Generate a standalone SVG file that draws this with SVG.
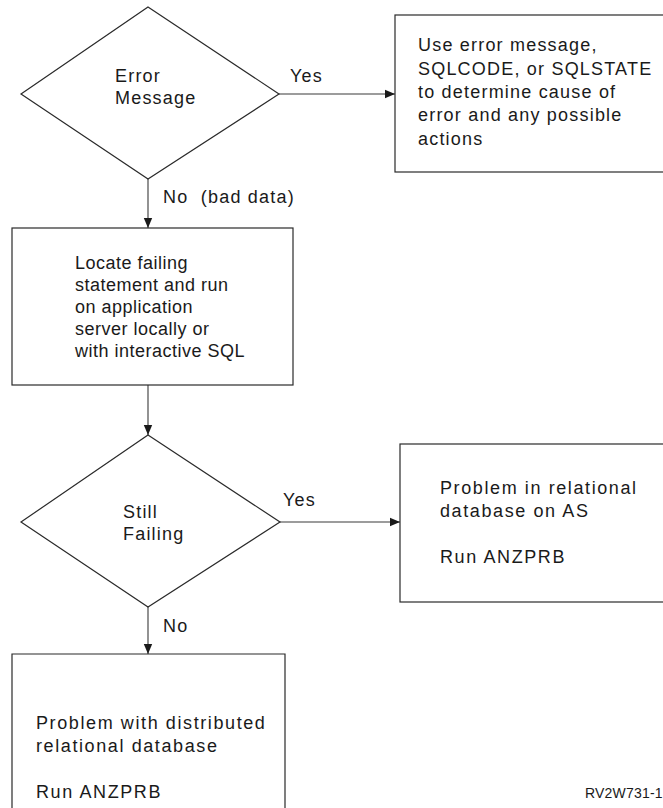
<svg xmlns="http://www.w3.org/2000/svg" width="663" height="808" viewBox="0 0 663 808">
  <style>
    .shape { fill: #ffffff; stroke: #2a2a2a; stroke-width: 1.2; }
    .link { fill: none; stroke: #3a3a3a; stroke-width: 1.1; }
    text { font-family: "Liberation Sans", Arial, sans-serif; font-size: 18px; fill: #1a1a1a; letter-spacing: 1.2px; }
    .tight { letter-spacing: 0.5px; }
    .wide { letter-spacing: 1.6px; }
    .ref { font-size: 14px; letter-spacing: 0.2px; }
  </style>
  <defs>
    <marker id="arrow" viewBox="0 0 10 10" refX="10" refY="5" markerWidth="10" markerHeight="10" markerUnits="userSpaceOnUse" orient="auto">
      <path d="M0,0.8 L10,5 L0,9.2 Z" fill="#1a1a1a"/>
    </marker>
  </defs>

  <rect width="663" height="808" fill="#ffffff"/>

  <!-- connectors -->
  <g id="connectors">
    <line class="link" x1="279" y1="94" x2="395" y2="94" marker-end="url(#arrow)"/>
    <line class="link" x1="148" y1="179" x2="148" y2="228" marker-end="url(#arrow)"/>
    <line class="link" x1="148" y1="385" x2="148" y2="435" marker-end="url(#arrow)"/>
    <line class="link" x1="280" y1="522" x2="400" y2="522" marker-end="url(#arrow)"/>
    <line class="link" x1="148" y1="607" x2="148" y2="654" marker-end="url(#arrow)"/>
    <text x="290" y="82">Yes</text>
    <text x="163" y="203">No&#160; (bad data)</text>
    <text x="283" y="506">Yes</text>
    <text x="163" y="632">No</text>
  </g>

  <!-- decision: error message -->
  <g id="error-message">
    <polygon class="shape" points="148,7 279,94 148,179 21,94"/>
    <text x="115" y="82">Error</text>
    <text x="115" y="104">Message</text>
  </g>

  <!-- action: use error message -->
  <g id="use-error-info">
    <rect class="shape" x="395" y="15" width="270" height="157"/>
    <text x="418" y="51">Use error message,</text>
    <text x="418" y="75">SQLCODE, or SQLSTATE</text>
    <text x="418" y="98">to determine cause of</text>
    <text x="418" y="121">error and any possible</text>
    <text x="418" y="145">actions</text>
  </g>

  <!-- action: locate failing statement -->
  <g id="locate-statement">
    <rect class="shape" x="12" y="228" width="281" height="157"/>
    <text class="tight" x="75" y="269">Locate failing</text>
    <text class="tight" x="75" y="291">statement and run</text>
    <text class="tight" x="75" y="313">on application</text>
    <text class="tight" x="75" y="335">server locally or</text>
    <text class="tight" x="75" y="357">with interactive SQL</text>
  </g>

  <!-- decision: still failing -->
  <g id="still-failing">
    <polygon class="shape" points="148,435 280,522 148,607 21,522"/>
    <text x="123" y="518">Still</text>
    <text x="123" y="540">Failing</text>
  </g>

  <!-- result: relational database on AS -->
  <g id="problem-as">
    <rect class="shape" x="400" y="444" width="265" height="158"/>
    <text class="wide" x="440" y="494">Problem in relational</text>
    <text class="wide" x="440" y="517">database on AS</text>
    <text class="wide" x="440" y="563">Run ANZPRB</text>
  </g>

  <!-- result: distributed relational database -->
  <g id="problem-distributed">
    <path class="shape" d="M12,812 L12,654 L285,654 L285,812"/>
    <text class="wide" x="36" y="729">Problem with distributed</text>
    <text class="wide" x="36" y="752">relational database</text>
    <text class="wide" x="36" y="798">Run ANZPRB</text>
  </g>

  <text class="ref" x="585" y="798">RV2W731-1</text>
</svg>
